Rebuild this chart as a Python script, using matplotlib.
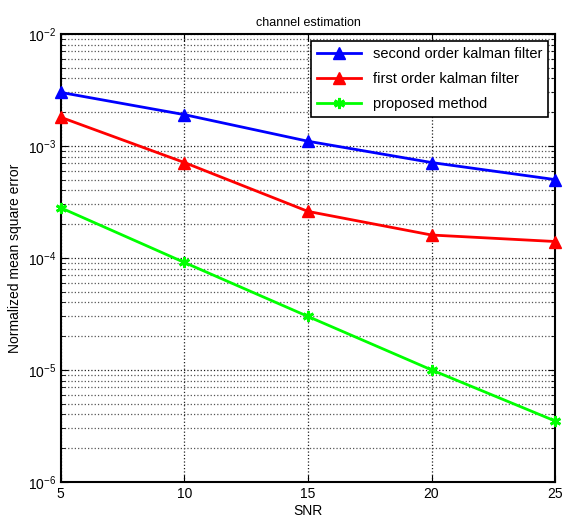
import matplotlib
matplotlib.use("Agg")
import matplotlib.pyplot as plt
import numpy as np
from matplotlib.ticker import LogLocator, NullFormatter

plt.rcParams["font.family"] = ["Liberation Sans", "DejaVu Sans"]

snr = [5, 10, 15, 20, 25]
second_order = [3.0e-3, 1.9e-3, 1.1e-3, 7.1e-4, 5.0e-4]
first_order = [1.8e-3, 7.1e-4, 2.6e-4, 1.6e-4, 1.4e-4]
proposed = [2.8e-4, 9.1e-5, 3.0e-5, 1.0e-5, 3.5e-6]

fig = plt.figure(figsize=(5.63, 5.29), dpi=100)
ax = fig.add_axes([0.108, 0.089, 0.878, 0.847])

ax.semilogy(snr, second_order, "-^", color="#0000ff", lw=2, ms=9,
            label="second order kalman filter", clip_on=False, zorder=5)
ax.semilogy(snr, first_order, "-^", color="#ff0000", lw=2, ms=9,
            label="first order kalman filter", clip_on=False, zorder=5)
ax.semilogy(snr, proposed, "-", marker=(6, 2, 0), color="#00ff00", lw=2, ms=8,
            mew=2, label="proposed method", clip_on=False, zorder=5)

ax.set_xlim(5, 25)
ax.set_ylim(1e-6, 1e-2)
ax.set_xticks([5, 10, 15, 20, 25])
ax.yaxis.set_major_locator(LogLocator(base=10, numticks=10))
ax.yaxis.set_minor_locator(LogLocator(base=10, subs=np.arange(2, 10), numticks=10))
ax.yaxis.set_minor_formatter(NullFormatter())

ax.grid(True, which="major", axis="both", color="#202020", ls=":", lw=0.9)
ax.grid(True, which="minor", axis="y", color="#555555", ls=":", lw=0.9)
ax.tick_params(which="both", direction="in", top=True, right=True, labelsize=10)
ax.tick_params(which="major", length=5)
ax.tick_params(which="minor", length=3)
for s in ax.spines.values():
    s.set_linewidth(1.5)

ax.set_title("channel estimation", fontsize=9)
ax.set_xlabel("SNR", fontsize=10, labelpad=2)
ax.set_ylabel("Normalized mean square error", fontsize=10)

leg = ax.legend(loc="upper right", fontsize=10.5, fancybox=False, framealpha=1,
                edgecolor="black", borderaxespad=0.5, handlelength=3,
                labelspacing=0.75)
leg.get_frame().set_linewidth(1.2)
leg.set_zorder(10)

fig.savefig("out.png", dpi=100)
